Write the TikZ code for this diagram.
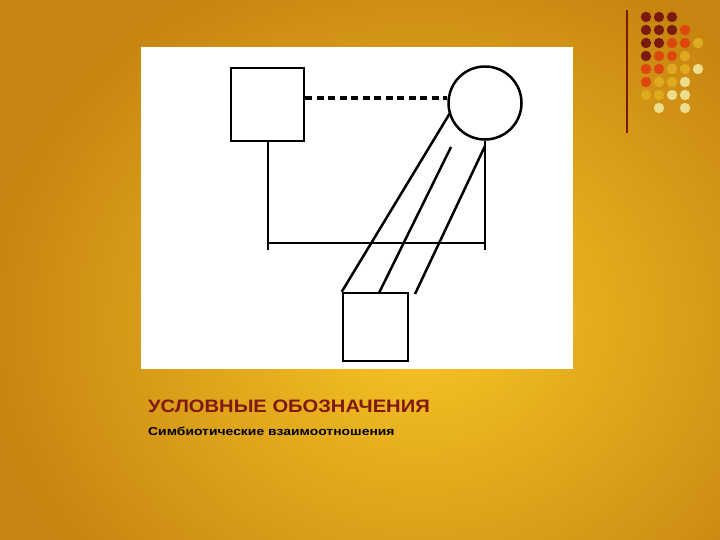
\documentclass[tikz,border=0pt]{standalone}
\usepackage{fontspec}
\setmainfont{Liberation Sans}
\usetikzlibrary{calc}
\definecolor{bgin}{RGB}{248,198,38}
\definecolor{bgout}{RGB}{198,132,16}
\definecolor{dk}{RGB}{122,26,12}
\definecolor{orr}{RGB}{222,70,16}
\definecolor{yl}{RGB}{222,170,30}
\definecolor{pl}{RGB}{236,222,140}
\definecolor{titlered}{RGB}{128,24,14}
\tikzset{
  ln/.style={line width=2.5bp, black},
  box/.style={draw, line width=2.5bp, minimum width=73bp, minimum height=73bp, inner sep=0pt, fill=white},
  dot/.style={circle, inner sep=0pt, minimum size=10.5bp}
}
\begin{document}
\begin{tikzpicture}[x=1bp,y=-1bp]
\useasboundingbox (0,0) rectangle (720,540);
\begin{scope}
\clip (0,0) rectangle (720,540);
\shade[inner color=bgin, outer color=bgout] (-20,-60) rectangle (860,700);
\end{scope}
% white panel
\fill[white] (141,47) rectangle (573,369);
% nodes
\node[box] (A) at (267.5,104.5) {};
\node[draw, circle, line width=2.5bp, minimum size=73bp, inner sep=0pt] (C) at (485,103) {};
\node[box, minimum width=65bp, minimum height=68bp] (B) at (375.5,327) {};
% dashed link
\draw[line width=3.5bp, dash pattern=on 7bp off 4.5bp] (A.east |- 0,98) -- (C.west |- 0,98);
% bracket
\coordinate (l0) at (268,141);
\coordinate (l1) at (268,250);
\coordinate (r1) at (485,250);
\coordinate (hl) at (268,243);
\coordinate (hr) at (486,243);
\draw[ln] (A.south -| l0) -- (l1);
\draw[ln] (C.south) -- (r1);
\draw[ln] (hl) -- (hr);
% diagonal lines
\coordinate (d1) at (450,113);
\coordinate (d2a) at (451,147);
\coordinate (d2b) at (379,293);
\coordinate (d3a) at (485,146);
\coordinate (d3b) at (415,294);
\draw[ln] (d1) -- (B.north west);
\draw[ln] (d2a) -- (d2b);
\draw[ln] (d3a) -- (d3b);
% texts
\node[anchor=base west, font=\bfseries\fontsize{18bp}{20bp}\selectfont, text=titlered, inner sep=0pt] (t1) at (148,412) {\scalebox{1.12}[1]{УСЛОВНЫЕ ОБОЗНАЧЕНИЯ}};
\node[anchor=base west, font=\bfseries\fontsize{11.5bp}{14bp}\selectfont, text=black, inner sep=0pt] (t2) at (148,435) {\scalebox{1.21}[1]{Симбиотические взаимоотношения}};
% decoration top right
\draw[line width=1.3bp, dk] (627,10) -- (627,133);
\foreach \r/\c/\col in {0/0/dk,0/1/dk,0/2/dk,
  1/0/dk,1/1/dk,1/2/dk,1/3/orr,
  2/0/dk,2/1/dk,2/2/orr,2/3/orr,2/4/yl,
  3/0/dk,3/1/orr,3/2/orr,3/3/yl,
  4/0/orr,4/1/orr,4/2/yl,4/3/yl,4/4/pl,
  5/0/orr,5/1/yl,5/2/yl,5/3/pl,
  6/0/yl,6/1/yl,6/2/pl,6/3/pl,
  7/1/pl,7/3/pl}
  \fill[\col] ({646+13*\c},{17+13*\r}) circle (5.2bp);
\end{tikzpicture}
\end{document}
